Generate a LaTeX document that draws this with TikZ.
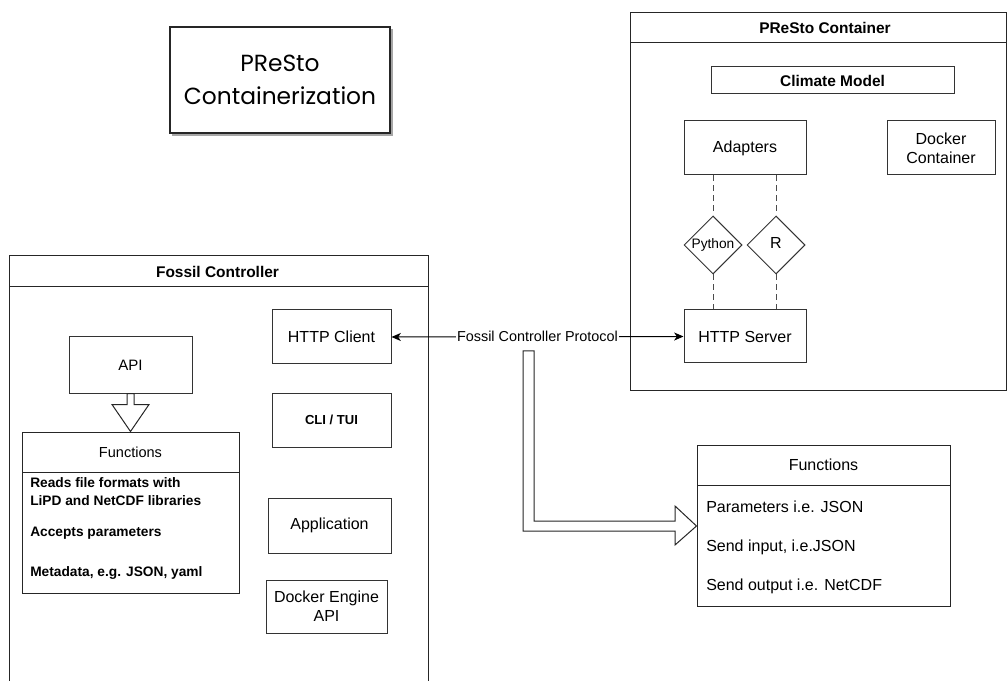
\documentclass[tikz,border=0pt]{standalone}
\usepackage{fontspec}
\setmainfont{Liberation Sans}
\newfontfamily\handfont{Poppins}
\usetikzlibrary{shapes.geometric,arrows.meta,calc}
\begin{document}
\begin{tikzpicture}[x=0.75pt,y=-0.75pt,
  box/.style={draw=black!80, line width=0.75pt, inner sep=0pt, align=center, font=\fontsize{12}{14}\selectfont},
  boldbox/.style={box, font=\fontsize{11.6}{14}\selectfont\bfseries},
  container/.style={draw=black!85, line width=0.75pt, inner sep=0pt},
  dia/.style={draw=black!80, line width=0.75pt, diamond, inner sep=0pt, minimum width=43.5pt, minimum height=43.5pt, font=\fontsize{12}{14}\selectfont},
  dashline/.style={draw=black!70, line width=0.75pt, dash pattern=on 4.5pt off 3pt},
  hollow/.style={draw=black!85, line width=0.75pt, fill=white, line join=miter},
  itemtxt/.style={anchor=west, inner sep=0pt, font=\fontsize{12}{14}\selectfont},
  bitemtxt/.style={anchor=west, inner sep=0pt, font=\fontsize{10.3}{12.4}\selectfont\bfseries}
]
\useasboundingbox (0,0) rectangle (1008,681);
\clip (0,0) rectangle (1008,681);

% ---- sketch title box
\draw[black!35, line width=1.6pt] (172,134.5) -- (391.5,134.5) -- (391.5,29);
\node[draw=black!85, line width=1.1pt, minimum width=165pt, minimum height=79.5pt, inner sep=0pt,
      align=center, font=\handfont\fontsize{17.5}{24.75}\selectfont] (title) at (280,80)
      {PReSto\\Containerization};

% ---- PReSto container
\node[container, minimum width=282pt, minimum height=282.75pt] (presto) at (818,201.5) {};
\draw[black!85, line width=0.75pt] (630,43) -- (1006,43);
\node[inner sep=0pt, font=\fontsize{11.6}{14}\selectfont\bfseries] (prestotitle) at (825,28) {PReSto Container};

\node[boldbox, minimum width=182.25pt, minimum height=20.25pt] (climate) at (832.5,80.5) {Climate Model};
\node[box, minimum width=91.5pt, minimum height=40.5pt] (adapters) at (745,148) {Adapters};
\node[box, minimum width=81pt, minimum height=40.5pt] (dockerc) at (941,148) {Docker\\Container};
\node[dia, font=\fontsize{10.3}{12}\selectfont] (python) at (713,245) {};
\node[font=\fontsize{10.3}{12}\selectfont, inner sep=0pt] at (python.center) {Python};
\node[dia] (rlang) at (776,245) {};
\node[font=\fontsize{12}{14}\selectfont, inner sep=0pt] at (776,243) {R};
\node[box, minimum width=91.5pt, minimum height=39.75pt] (server) at (745,336.5) {HTTP Server};

\draw[dashline] (adapters.south -| python.north) -- (python.north);
\draw[dashline] (python.south) -- (server.north -| python.south);
\draw[dashline] (adapters.south -| rlang.north) -- (rlang.north);
\draw[dashline] (rlang.south) -- (server.north -| rlang.south);

% ---- Fossil controller
\node[container, minimum width=314.25pt, minimum height=333pt] (fossil) at (218.5,478) {};
\draw[black!85, line width=0.75pt] (9,287) -- (428,287);
\node[inner sep=0pt, font=\fontsize{11.6}{14}\selectfont\bfseries] (fossiltitle) at (217.5,272) {Fossil Controller};

\node[box, minimum width=89.25pt, minimum height=40.5pt] (client) at (331.5,337) {HTTP Client};
\node[box, minimum width=89.25pt, minimum height=40.5pt, font=\fontsize{9.8}{12}\selectfont\bfseries] (cli) at (331.5,420) {CLI / TUI};
\node[box, minimum width=92.25pt, minimum height=42pt, font=\fontsize{11.3}{14}\selectfont] (api) at (130.5,365) {API};
\node[box, minimum width=92.25pt, minimum height=41.25pt] (application) at (329.5,525.5) {Application};
\node[box, minimum width=90.75pt, minimum height=39.75pt] (dockerengine) at (326.5,606.5) {Docker Engine\\API};

% left functions
\node[container, minimum width=162.75pt, minimum height=120.75pt] (funcL) at (130.5,512.5) {};
\draw[black!85, line width=0.75pt] (22,472) -- (239,472);
\node[inner sep=0pt, font=\fontsize{10.9}{13}\selectfont] (funcLtitle) at (130.5,452) {Functions};
\node[bitemtxt] (fl1) at (30,483) {Reads file formats with};
\node[bitemtxt] (fl2) at (30,501) {LiPD and NetCDF libraries};
\node[bitemtxt] (fl3) at (30,533) {Accepts parameters};
\node[bitemtxt] (fl4) at (30,573) {Metadata, e.g. JSON, yaml};

% hollow arrow API -> Functions
\draw[hollow] ($(api.south)+(-3.5,0)$) -- ($(api.south)+(3.5,0)$) -- ($(api.south)+(3.5,11)$)
  -- ($(api.south)+(18.5,11)$) -- (funcL.north) -- ($(api.south)+(-18.5,11)$)
  -- ($(api.south)+(-3.5,11)$) -- cycle;

% right functions
\node[container, minimum width=189.75pt, minimum height=120.75pt] (funcR) at (823.5,525.5) {};
\draw[black!85, line width=0.75pt] (697,485) -- (950,485);
\node[inner sep=0pt, font=\fontsize{12}{14}\selectfont] (funcRtitle) at (823.5,465) {Functions};
\node[itemtxt] (fr1) at (706,507) {Parameters i.e. JSON};
\node[itemtxt] (fr2) at (706,547) {Send input, i.e.JSON};
\node[itemtxt] (fr3) at (706,586) {Send output i.e. NetCDF};

% protocol connector
\draw[black, line width=0.75pt, {Stealth[length=7pt,width=6pt,inset=2pt]}-{Stealth[length=7pt,width=6pt,inset=2pt]}]
  (client.east) -- (server.west)
  node[pos=0.5, fill=white, inner sep=1pt, font=\fontsize{10.8}{13}\selectfont] (proto) {Fossil Controller Protocol};

% big L hollow arrow
\coordinate (ls) at (523,351);
\draw[hollow] (ls) -- ++(11,0) -- (534,521) -- (675,521) -- (675,506) -- (funcR.west |- 0,526)
  -- (675,545) -- (675,531) -- (523,531) -- cycle;
\end{tikzpicture}
\end{document}
